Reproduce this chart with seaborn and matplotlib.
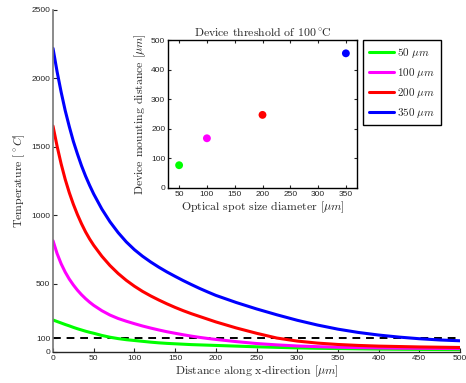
import numpy as np
import pandas as pd
import matplotlib
matplotlib.use("Agg")
import matplotlib.pyplot as plt
import seaborn as sns
from matplotlib.lines import Line2D

# ---- data ----
distance = [0, 5, 10, 15, 20, 25, 30, 35, 40, 45, 50,
            60, 70, 80, 90, 100, 110, 120, 130, 140, 150, 160, 170, 180, 190, 200,
            225, 250, 275, 300, 325, 350, 375, 400, 425, 450, 475, 500]
temp_50 = [234, 223, 212, 201, 191, 180, 170, 161, 152, 144, 137,
           121, 108, 98, 90, 84, 78, 72, 67, 63, 60, 57, 54, 52, 50, 48,
           43, 38, 34, 30, 27, 25, 23, 21, 20, 19, 18, 17]
temp_100 = [814, 720, 645, 584, 533, 490, 452, 419, 390, 364, 341,
            302, 270, 245, 225, 207, 190, 175, 161, 148, 137, 126, 116, 107, 99, 92,
            76, 62, 52, 44, 39, 35, 32, 30, 28, 27, 26, 25]
temp_200 = [1652, 1505, 1375, 1262, 1165, 1080, 1005, 938, 878, 826, 780,
            700, 632, 574, 524, 481, 443, 410, 380, 352, 326, 302, 280, 260, 240, 220,
            176, 137, 102, 80, 65, 55, 48, 43, 40, 37, 35, 33]
temp_350 = [2220, 2050, 1900, 1765, 1648, 1540, 1448, 1362, 1286, 1218, 1155,
            1045, 952, 873, 805, 748, 700, 658, 620, 585, 553, 522, 493, 465, 439, 414,
            362, 315, 272, 232, 197, 167, 143, 124, 109, 97, 88, 82]
series_labels = ["50 $\\mu m$", "100 $\\mu m$", "200 $\\mu m$", "350 $\\mu m$"]
legend_labels = ["$\\mathrm{50}\\ \\mu m$", "$\\mathrm{100}\\ \\mu m$",
                 "$\\mathrm{200}\\ \\mu m$", "$\\mathrm{350}\\ \\mu m$"]
series_colors = ["#00ff00", "#ff00ff", "#ff0000", "#0000ff"]
threshold = 100

spot_size = [50, 100, 200, 350]
mount_distance = [77, 168, 247, 455]

main_yticks = [0, 100, 500, 1000, 1500, 2000, 2500]
main_xticks = [0, 50, 100, 150, 200, 250, 300, 350, 400, 450, 500]
inset_xticks = [50, 100, 150, 200, 250, 300, 350]
inset_yticks = [0, 100, 200, 300, 400, 500]

# ---- build long-form table ----
rows = []
for lab, vals in zip(series_labels, [temp_50, temp_100, temp_200, temp_350]):
    for d, t in zip(distance, vals):
        rows.append({"distance": d, "temp": t, "spot": lab})
df = pd.DataFrame(rows)
df_in = pd.DataFrame({"spot_size": spot_size, "mount": mount_distance, "spot": series_labels})

sns.set_style("ticks")
plt.rcParams["mathtext.fontset"] = "cm"
plt.rcParams["font.family"] = ["Liberation Sans", "DejaVu Sans"]
plt.rcParams["axes.unicode_minus"] = False
serif = "cmr10"

fig = plt.figure(figsize=(4.66, 3.83), dpi=100)
ax = fig.add_axes([53/466, 1-352/383, 407/466, 342/383])
palette = dict(zip(series_labels, series_colors))
sns.lineplot(data=df, x="distance", y="temp", hue="spot", palette=palette,
             hue_order=series_labels, linewidth=2.2, ax=ax, legend=False)
ax.axhline(threshold, color="black", linestyle=(0, (4, 3)), linewidth=1.4, zorder=1)

ax.set_xlim(0, 500)
ax.set_ylim(0, 2500)
ax.set_xticks(main_xticks)
ax.set_yticks(main_yticks)
ax.tick_params(direction="in", length=3, labelsize=6, width=0.8, pad=2)
for s in ["top", "right"]:
    ax.spines[s].set_visible(False)
ax.spines["left"].set_color("#777777")
ax.spines["left"].set_linewidth(1.2)
ax.spines["bottom"].set_linewidth(1.0)
ax.set_xlabel("Distance along x-direction [$\\mu m$]", fontfamily=serif, fontsize=8.5, labelpad=1)
ax.set_ylabel("Temperature [$^\\circ C$]", fontfamily=serif, fontsize=8.5, labelpad=3)

# ---- inset ----
axi = fig.add_axes([168/466, 1-188/383, 189/466, 148/383])
sns.scatterplot(data=df_in, x="spot_size", y="mount", hue="spot", palette=palette,
                hue_order=series_labels, s=32, edgecolor="none", ax=axi, legend=False)
axi.set_xlim(30, 370)
axi.set_ylim(0, 500)
axi.set_xticks(inset_xticks)
axi.set_yticks(inset_yticks)
axi.tick_params(direction="in", length=2.5, labelsize=6, width=0.8, pad=2,
                top=True, right=True)
for s in axi.spines.values():
    s.set_linewidth(1.0)
    s.set_color("black")
axi.set_title("Device threshold of 100$^\\circ\\!$C", fontfamily=serif, fontsize=8.5, pad=3)
axi.set_xlabel("Optical spot size diameter [$\\mu m$]", fontfamily=serif, fontsize=8.5, labelpad=1)
axi.set_ylabel("Device mounting distance [$\\mu m$]", fontfamily=serif, fontsize=8.5, labelpad=2)

# ---- legend ----
handles = [Line2D([0], [0], color=c, lw=2.2) for c in series_colors]
leg = fig.legend(handles, legend_labels, loc="upper left", bbox_to_anchor=(363/466, 1-40/383),
                 frameon=True, fancybox=False, edgecolor="black", framealpha=1,
                 prop={"size": 8}, handlelength=2.3, handletextpad=0.3,
                 labelspacing=0.55, borderpad=0.5, borderaxespad=0)
leg.get_frame().set_linewidth(1.0)

fig.savefig("out.png", dpi=100)
